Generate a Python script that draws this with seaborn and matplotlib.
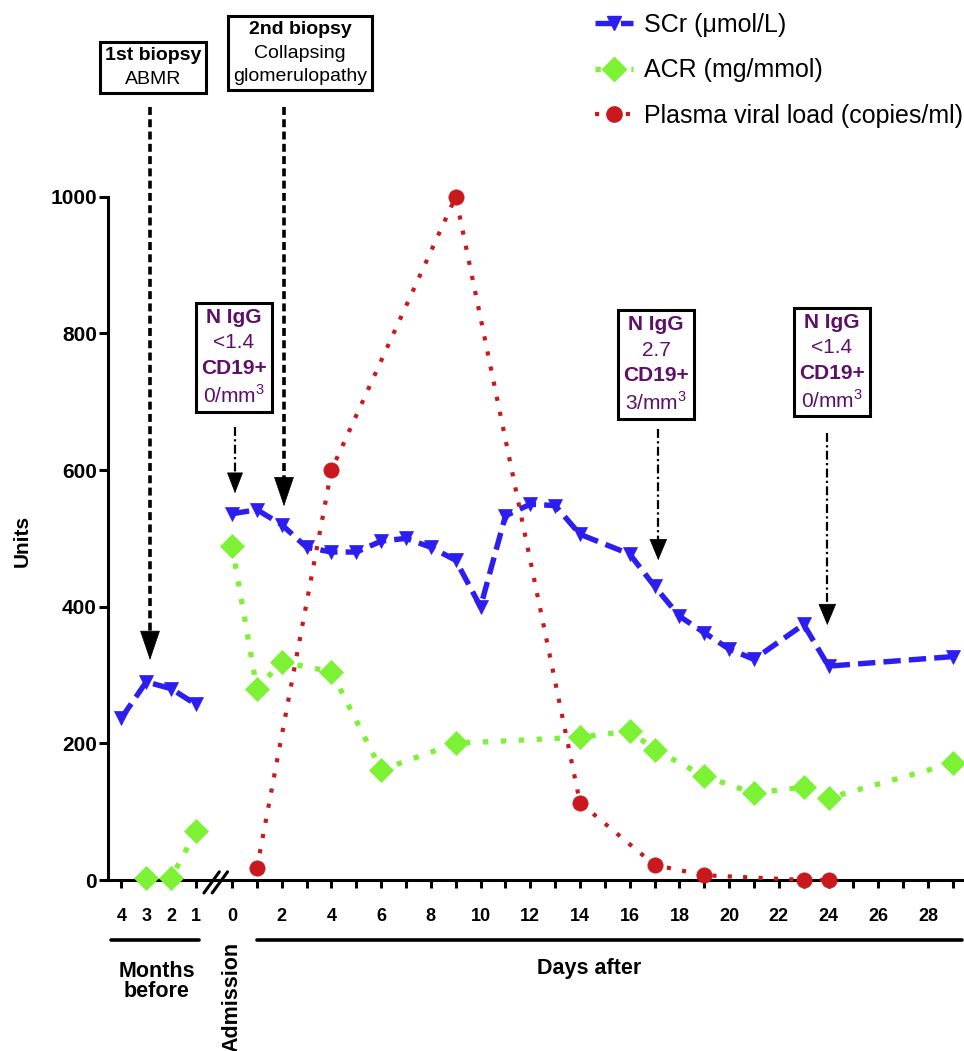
import pandas as pd
import seaborn as sns
import matplotlib.pyplot as plt
from matplotlib.lines import Line2D
from matplotlib.offsetbox import TextArea, VPacker, AnnotationBbox

sns.set_style("ticks", {"axes.edgecolor": "black", "xtick.color": "black", "ytick.color": "black",
                        "text.color": "black", "axes.labelcolor": "black"})
plt.rcParams["font.family"] = ["Liberation Sans", "DejaVu Sans"]
plt.rcParams["mathtext.fontset"] = "custom"
plt.rcParams["mathtext.rm"] = "Liberation Sans"
plt.rcParams["mathtext.bf"] = "Liberation Sans:bold"

BLUE = "#2D1EF0"
GREEN = "#7DF235"
RED = "#C9191E"
PURPLE = "#5E1069"

# SCr (umol/L): months before admission, then days after admission
scr_months = [4, 3, 2, 1]
scr_months_val = [237, 290, 280, 257]
scr_days = [0, 1, 2, 3, 4, 5, 6, 7, 8, 9, 10, 11, 12, 13, 14, 16, 17, 18, 19, 20, 21, 23, 24, 29]
scr_days_val = [536, 542, 520, 487, 480, 480, 496, 500, 487, 468, 400, 533, 550, 548, 506, 477,
                430, 386, 362, 338, 323, 374, 313, 327]

# ACR (mg/mmol)
acr_months = [3, 2, 1]
acr_months_val = [3, 3, 71]
acr_days = [0, 1, 2, 4, 6, 9, 14, 16, 17, 19, 21, 23, 24, 29]
acr_days_val = [489, 280, 319, 305, 161, 200, 209, 218, 191, 152, 127, 136, 120, 171]

# plasma viral load (copies/ml)
vl_days = [1, 4, 9, 14, 17, 19, 23, 24]
vl_days_val = [17, 600, 1000, 113, 22, 7, 0, 0]

month_ticks = [4, 3, 2, 1]
day_ticks = list(range(0, 30))
y_ticks = [0, 200, 400, 600, 800, 1000]


def month_pos(m):
    # months sit left of the axis break, one day-width apart
    return -0.45 - m


def frame(months, mvals, days, dvals):
    a = pd.DataFrame({"x": [month_pos(m) for m in months], "value": mvals, "segment": "before"})
    b = pd.DataFrame({"x": days, "value": dvals, "segment": "after"})
    return pd.concat([a, b], ignore_index=True)


scr = frame(scr_months, scr_months_val, scr_days, scr_days_val)
acr = frame(acr_months, acr_months_val, acr_days, acr_days_val)
vl = frame([], [], vl_days, vl_days_val)

fig = plt.figure(figsize=(9.64, 10.51), dpi=100)
ax = fig.add_axes([108 / 964, 1 - 880 / 1051, 856 / 964, 880 / 1051])

styles = [
    (scr, BLUE, "v", 10.5, 3.9, (0, (3.2, 1.5)), "SCr (\u03bcmol/L)"),
    (acr, GREEN, "D", 12, 3.8, (0, (1, 2.4)), "ACR (mg/mmol)"),
    (vl, RED, "o", 11, 3.0, (0, (1, 2.7)), "Plasma viral load (copies/ml)"),
]
handles = []
for data, col, mk, ms, lw, ls, lab in styles:
    sns.lineplot(data=data, x="x", y="value", units="segment", estimator=None, ax=ax,
                 color=col, marker=mk, markersize=ms, markeredgecolor=col, markeredgewidth=0.5,
                 linewidth=lw, linestyle=ls, legend=False, clip_on=False, zorder=4)
    handles.append(Line2D([], [], color=col, marker=mk, markersize=ms, markeredgecolor=col,
                          linewidth=lw, linestyle=ls, label=lab))

ax.set_xlim(-4.99, 29.45)
ax.set_ylim(0, 1288)
ax.spines["top"].set_visible(False)
ax.spines["right"].set_visible(False)
ax.spines["left"].set_bounds(0, 1000)
for s in ["left", "bottom"]:
    ax.spines[s].set_linewidth(2.2)

ax.set_xticks([month_pos(m) for m in month_ticks] + day_ticks)
ax.set_xticklabels([str(m) for m in month_ticks] + [str(d) if d % 2 == 0 else "" for d in day_ticks],
                   fontweight="bold", fontsize=13)
ax.set_yticks(y_ticks)
ax.set_yticklabels([str(v) for v in y_ticks], fontweight="bold", fontsize=15)
ax.tick_params(axis="x", length=6, width=2.2, pad=14)
ax.tick_params(axis="y", length=6.5, width=2.2, pad=1.5)
ax.set_xlabel("")
ax.set_ylabel("")
ax.text(-0.1005, 0.385, "Units", transform=ax.transAxes, rotation=90, ha="center", va="center",
        fontsize=15, fontweight="bold")

# axis break
for x0 in [-1.13, -0.80]:
    ax.plot([x0, x0 + 0.62], [-19, 12], color="black", lw=2.2, clip_on=False, zorder=5)

# group brackets under the axis
ax.plot([-4.88, -1.32], [-88, -88], color="black", lw=2.6, clip_on=False)
ax.plot([0.99, 29.36], [-88, -88], color="black", lw=2.6, clip_on=False)
ax.text(-3.02, -148, "Months\nbefore", ha="center", va="center", fontsize=15.5,
        fontweight="bold", linespacing=0.95)
ax.text(14.36, -129, "Days after", ha="center", va="center", fontsize=15.5, fontweight="bold")
ax.text(0, -91, "Admission", ha="center", va="top", rotation=90, fontsize=15.5, fontweight="bold")


def box(xy, lines, size, color):
    kids = [TextArea(t, textprops=dict(fontsize=size, fontweight=w, color=color, ha="center"))
            for t, w in lines]
    pack = VPacker(children=kids, align="center", pad=0, sep=4.6)
    ab = AnnotationBbox(pack, xy, xycoords="data", frameon=True, pad=0.5, fontsize=12,
                        box_alignment=(0.5, 0.5), annotation_clip=False,
                        bboxprops=dict(edgecolor="black", linewidth=2.2, facecolor="white",
                                       boxstyle="square"))
    ax.add_artist(ab)


def arrow(x, y0, base, tip, style, lw, hl, hw):
    ax.plot([x, x], [y0, base], color="black", lw=lw, linestyle=style, clip_on=False, zorder=6)
    ax.annotate("", xy=(x, tip), xytext=(x, base), annotation_clip=False, zorder=6,
                arrowprops=dict(arrowstyle=f"-|>,head_length={hl},head_width={hw}",
                                mutation_scale=20, color="black", lw=0.5, shrinkA=0, shrinkB=0))


box((-3.18, 1189), [("1st biopsy", "bold"), ("ABMR", "normal")], 14, "black")
box((2.74, 1210), [("2nd biopsy", "bold"), ("Collapsing", "normal"), ("glomerulopathy", "normal")],
    14, "black")
box((0.08, 765), [("N IgG", "bold"), ("<1.4", "normal"), ("CD19+", "bold"), ("0/mm$^3$", "normal")],
    15, PURPLE)
box((17.06, 754), [("N IgG", "bold"), ("2.7", "normal"), ("CD19+", "bold"), ("3/mm$^3$", "normal")],
    15, PURPLE)
box((24.14, 758), [("N IgG", "bold"), ("<1.4", "normal"), ("CD19+", "bold"), ("0/mm$^3$", "normal")],
    15, PURPLE)

dotted = (0, (2.2, 1.2))
dashdot = (0, (4, 1.5, 1, 1.5))
arrow(-3.3, 1131, 363, 322, dotted, 2.6, 1.0, 0.34)
arrow(2.09, 1131, 588, 547, dotted, 2.6, 1.0, 0.34)
arrow(0.12, 663, 593, 566, dashdot, 1.6, 0.7, 0.27)
arrow(17.15, 660, 498, 468, dashdot, 1.6, 0.72, 0.3)
arrow(23.95, 654, 402, 373, dashdot, 1.6, 0.72, 0.3)

ax.legend(handles=handles, loc="upper left", bbox_to_anchor=(595 / 964, 1 - 13 / 1051),
          bbox_transform=fig.transFigure, frameon=False, fontsize=18, borderpad=0,
          borderaxespad=0, handlelength=1.5, handletextpad=0.45, labelspacing=0.85, numpoints=1)

plt.savefig("out.png", dpi=100)
